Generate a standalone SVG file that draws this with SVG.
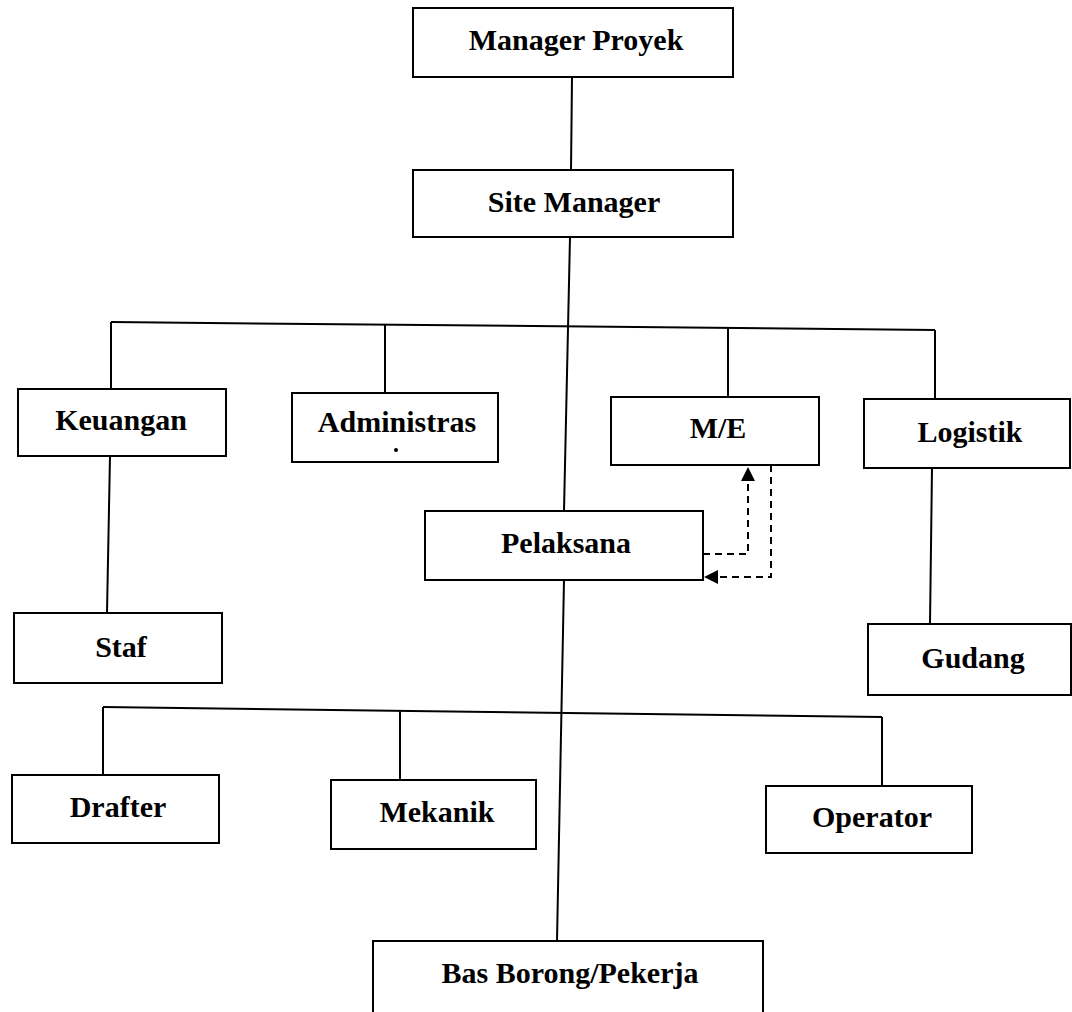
<svg xmlns="http://www.w3.org/2000/svg" width="1072" height="1012" viewBox="0 0 1072 1012">
<style>
.box{fill:#fff;stroke:#000;stroke-width:2}
.lbl{font-family:"Liberation Serif","Times New Roman",serif;font-weight:bold;font-size:30px;fill:#000;text-anchor:middle}
.ln{fill:none;stroke:#000;stroke-width:2}
.dash{fill:none;stroke:#000;stroke-width:2;stroke-dasharray:7,5}
</style>
<defs>
<marker id="ah" viewBox="0 0 10 10" refX="10" refY="5" markerWidth="14" markerHeight="14" markerUnits="userSpaceOnUse" orient="auto">
<path d="M0,0 L10,5 L0,10 Z" fill="#000"/>
</marker>
</defs>
<rect width="1072" height="1012" fill="#fff"/>
<g id="connectors">
<line class="ln" x1="572" y1="77" x2="571" y2="170"/>
<line class="ln" x1="570" y1="237" x2="564" y2="511"/>
<line class="ln" x1="111" y1="322" x2="935" y2="330"/>
<line class="ln" x1="111" y1="322" x2="111" y2="389"/>
<line class="ln" x1="385" y1="325" x2="385" y2="393"/>
<line class="ln" x1="728" y1="328" x2="728" y2="397"/>
<line class="ln" x1="935" y1="330" x2="935" y2="399"/>
<line class="ln" x1="110" y1="456" x2="107" y2="613"/>
<line class="ln" x1="932" y1="468" x2="930" y2="624"/>
<line class="ln" x1="564" y1="580" x2="557" y2="941"/>
<line class="ln" x1="103" y1="707" x2="882" y2="717"/>
<line class="ln" x1="103" y1="707" x2="103" y2="775"/>
<line class="ln" x1="400" y1="710" x2="400" y2="780"/>
<line class="ln" x1="882" y1="717" x2="882" y2="786"/>
<polyline class="dash" points="703,554 748,554 748,467" marker-end="url(#ah)"/>
<polyline class="dash" points="771,465 771,577 704,577" marker-end="url(#ah)"/>
</g>
<g id="manager-proyek"><rect class="box" x="413" y="8" width="320" height="69"/><text class="lbl" x="576" y="50">Manager Proyek</text></g>
<g id="site-manager"><rect class="box" x="413" y="170" width="320" height="67"/><text class="lbl" x="574" y="212">Site Manager</text></g>
<g id="keuangan"><rect class="box" x="18" y="389" width="208" height="67"/><text class="lbl" x="121" y="430">Keuangan</text></g>
<g id="administras"><rect class="box" x="292" y="393" width="206" height="69"/><text class="lbl" x="397" y="432">Administras</text><circle cx="396" cy="450" r="2" fill="#000"/></g>
<g id="me"><rect class="box" x="611" y="397" width="208" height="68"/><text class="lbl" x="718" y="438">M/E</text></g>
<g id="logistik"><rect class="box" x="864" y="399" width="206" height="69"/><text class="lbl" x="970" y="442">Logistik</text></g>
<g id="pelaksana"><rect class="box" x="425" y="511" width="278" height="69"/><text class="lbl" x="566" y="553">Pelaksana</text></g>
<g id="staf"><rect class="box" x="14" y="613" width="208" height="70"/><text class="lbl" x="121" y="657">Staf</text></g>
<g id="gudang"><rect class="box" x="868" y="624" width="203" height="71"/><text class="lbl" x="973" y="668">Gudang</text></g>
<g id="drafter"><rect class="box" x="12" y="775" width="207" height="68"/><text class="lbl" x="118" y="817">Drafter</text></g>
<g id="mekanik"><rect class="box" x="331" y="780" width="205" height="69"/><text class="lbl" x="437" y="822">Mekanik</text></g>
<g id="operator"><rect class="box" x="766" y="786" width="206" height="67"/><text class="lbl" x="872" y="827">Operator</text></g>
<g id="bas-borong"><rect class="box" x="373" y="941" width="390" height="74"/><text class="lbl" x="570" y="983">Bas Borong/Pekerja</text></g>
</svg>
